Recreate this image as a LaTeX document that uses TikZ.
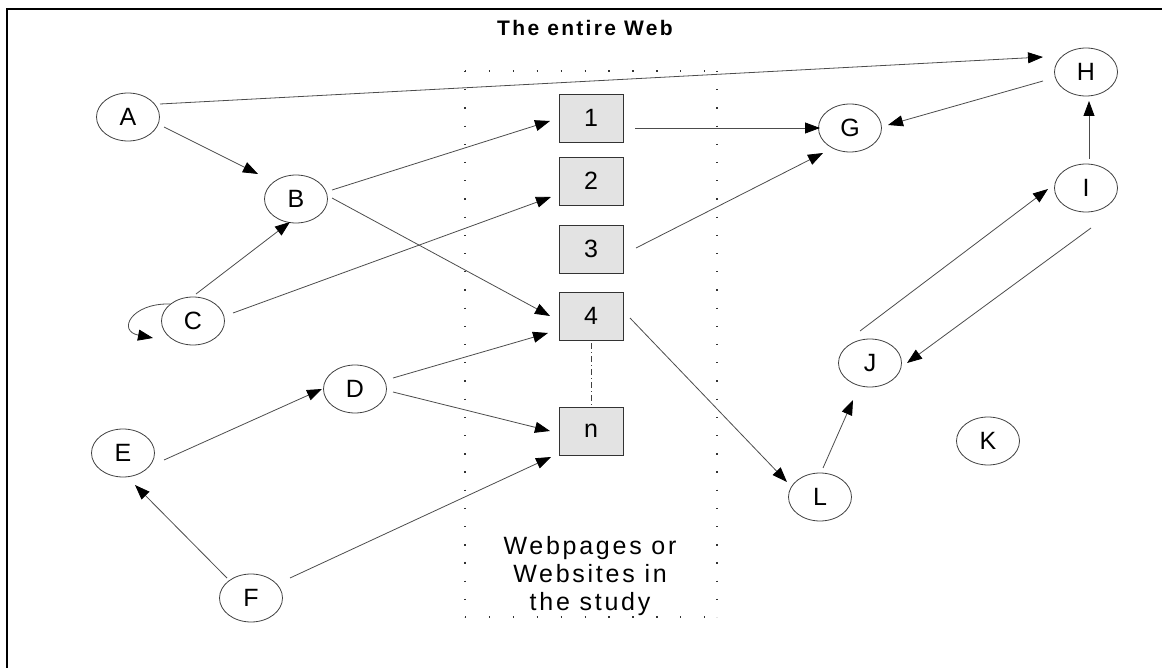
\documentclass[tikz,border=0pt]{standalone}
\usepackage{fontspec}
\setmainfont{Liberation Sans}
\newfontfamily\widesans[LetterSpace=11]{Liberation Sans}
\usetikzlibrary{arrows.meta,calc,shapes.geometric}

\begin{document}
\begin{tikzpicture}[x=1pt,y=-1pt,
  site/.style={draw=black!75, line width=0.8pt, ellipse, minimum width=63pt,
    minimum height=48pt, inner sep=0pt, font=\widesans\fontsize{25}{28}\selectfont},
  page/.style={draw=black!80, line width=0.9pt, fill=black!11, minimum width=64pt,
    minimum height=48pt, inner sep=0pt, font=\widesans\fontsize{25}{28}\selectfont},
  link/.style={draw=black!70, line width=0.8pt,
    -{Triangle[length=15pt,width=11pt,color=black]}},
  dotline/.style={line width=1.3pt, black!80}
]
\useasboundingbox (0,0) rectangle (1162,668);

% outer frame (only the top and left edges are visible)
\draw[line width=1.6pt] (7,668) -- (7,9) -- (1162,9);

\node[font=\widesans\bfseries\fontsize{21}{25}\selectfont] (title) at (585,28) {The entire Web};

% dotted region holding the pages of the study
\draw[dotline, dash pattern=on 1.3pt off 22.6pt] (465,71) -- (717,71);
\draw[dotline, dash pattern=on 1.3pt off 22.6pt] (465,617) -- (717,617);
\draw[dotline, dash pattern=on 1.3pt off 16.9pt] (465,71) -- (465,617);
\draw[dotline, dash pattern=on 1.3pt off 16.9pt] (717,71) -- (717,617);

% sites of the web
\node[site] (A) at (128,117) {A};
\node[site] (B) at (296,199) {B};
\node[site] (C) at (193,321) {C};
\node[site] (D) at (355,389) {D};
\node[site] (E) at (123,453) {E};
\node[site] (F) at (251,598) {F};
\node[site] (G) at (850,128) {G};
\node[site] (H) at (1086,72) {H};
\node[site] (I) at (1086,188) {I};
\node[site] (J) at (870,363) {J};
\node[site] (K) at (988,441) {K};
\node[site] (L) at (820,497) {L};

% pages in the study
\node[page] (p1) at (591,118) {1};
\node[page] (p2) at (591,181) {2};
\node[page] (p3) at (591,249) {3};
\node[page] (p4) at (591,316) {4};
\node[page] (pn) at (591,431) {n};

\node[align=center, font=\widesans\fontsize{25}{28}\selectfont] (study) at (590,576)
  {Webpages or\\Websites in\\the study};

% links
\draw[link] ($(A)+(32,-13)$) -- ($(H)+(-43,-15)$);
\draw[link] ($(A)+(36,10)$) -- ($(B)+(-38,-25)$);
\draw[link] ($(B)+(36,-9)$) -- ($(p1)+(-41,3)$);
\draw[link] ($(B)+(36,-1)$) -- ($(p4)+(-41,0)$);
\draw[link] ($(C)+(3,-27)$) -- ($(B)+(-6,23)$);
\draw[link] ($(C)+(40,-8)$) -- ($(p2)+(-40,16)$);
\coordinate (Cloop) at ($(C)+(-40,17)$);
\draw[link] ($(C)+(-23,-17)$) .. controls ($(C)+(-62,-18)$) and ($(C)+(-76,10)$) .. (Cloop);
\draw[link] ($(D)+(38,-11)$) -- ($(p4)+(-43,17)$);
\draw[link] ($(D)+(38,3)$) -- ($(pn)+(-41,0)$);
\draw[link] ($(E)+(41,7)$) -- ($(D)+(-33,0)$);
\draw[link] ($(F)+(-24,-20)$) -- ($(E)+(12,32)$);
\draw[link] ($(F)+(39,-20)$) -- ($(pn)+(-40,26)$);
\draw[link] ($(p1)+(44,10)$) -- ($(G)+(-30,0)$);
\draw[link] ($(p3)+(45,-1)$) -- ($(G)+(-27,25)$);
\draw[link] ($(p4)+(39,2)$) -- ($(L)+(-33,-15)$);
\draw[link] ($(H)+(-43,9)$) -- ($(G)+(38,-3)$);
\draw[link] ($(I)+(3,-29)$) -- ($(H)+(3,29)$);
\draw[link] ($(I)+(5,40)$) -- ($(J)+(37,0)$);
\draw[link] ($(J)+(-10,-32)$) -- ($(I)+(-38,1)$);
\draw[link] ($(L)+(3,-29)$) -- ($(J)+(-17,37)$);

% the pages between 4 and n
\draw[black!75, line width=0.9pt, dash pattern=on 6pt off 3pt on 1pt off 3pt]
  ($(p4.south)+(0,3)$) -- (pn.north);
\end{tikzpicture}
\end{document}
